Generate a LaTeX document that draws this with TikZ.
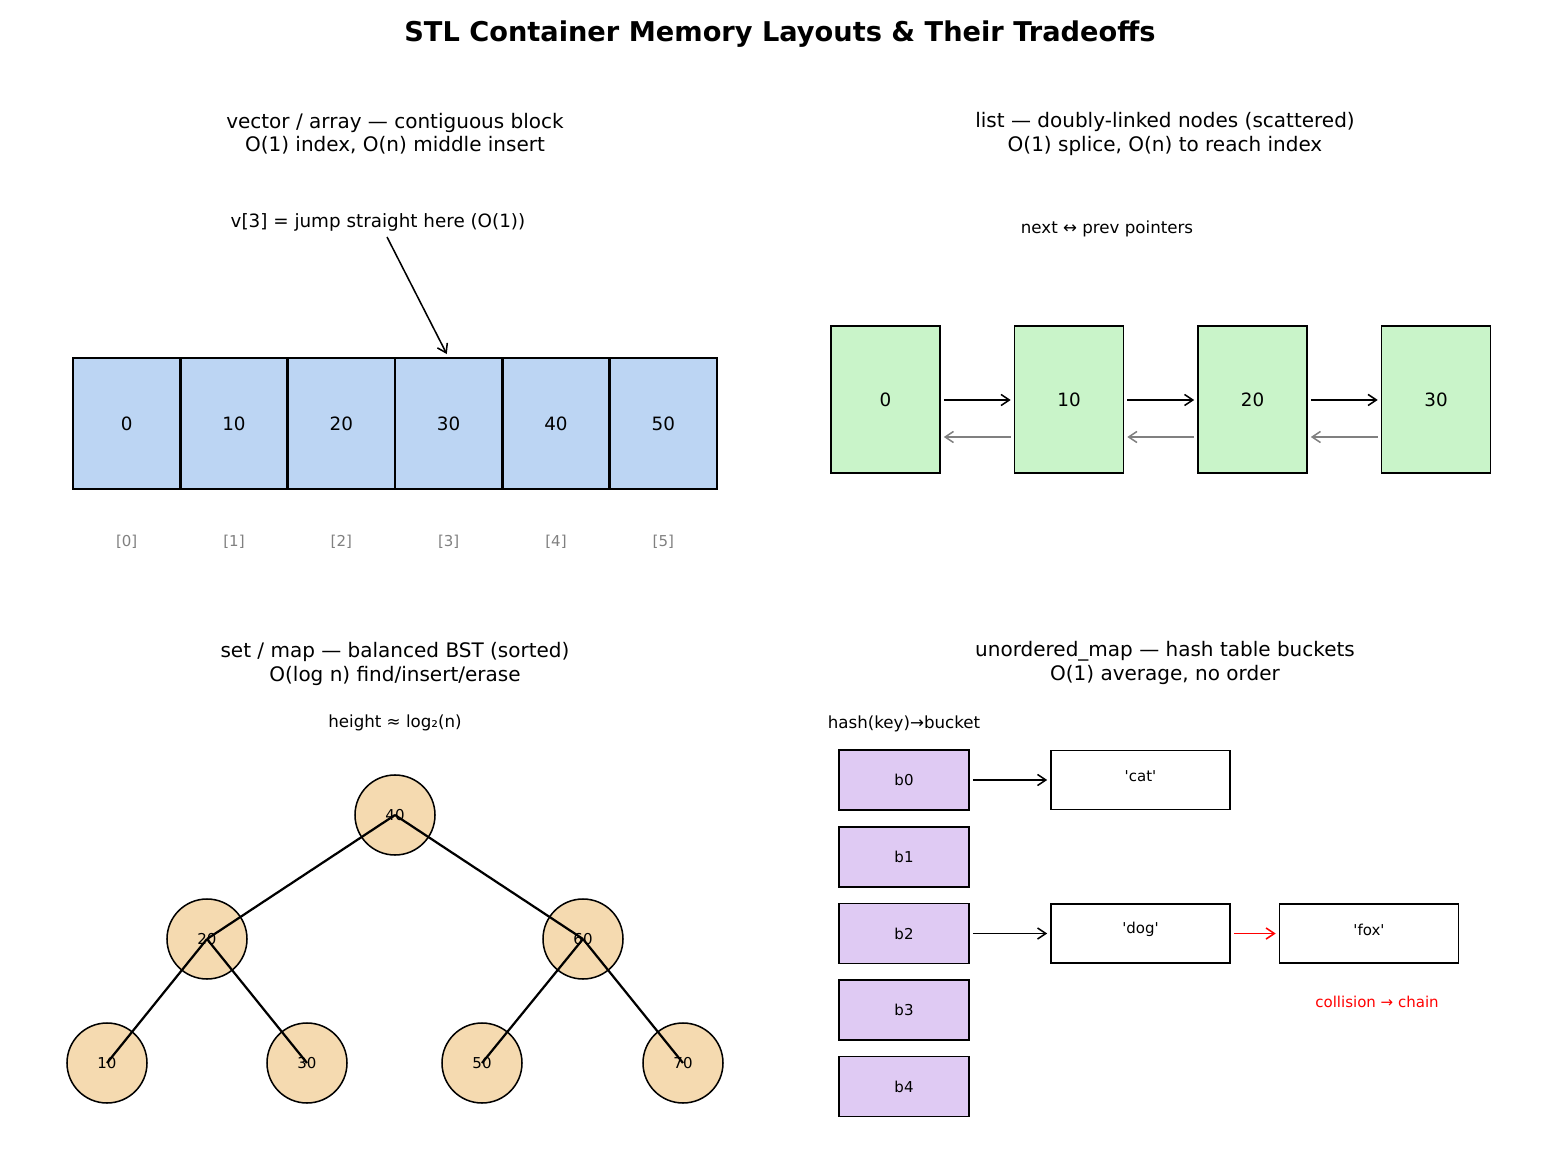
\documentclass[tikz,border=0pt]{standalone}
\usepackage{fontspec}
\setmainfont{DejaVu Sans}
\usetikzlibrary{arrows.meta}
\definecolor{vblue}{HTML}{BCD5F3}
\definecolor{lgreen}{HTML}{C9F4C9}
\definecolor{wheatc}{HTML}{F5DAB0}
\definecolor{lav}{HTML}{DFCAF3}
\definecolor{idxgray}{HTML}{808080}
\newcommand{\sq}{\textquotesingle}
\begin{document}
\begin{tikzpicture}[x=0.72pt,y=-0.72pt,
  cell/.style={fill=vblue, minimum width=77.28pt, minimum height=94.3pt, inner sep=0pt, font=\fontsize{13.2}{15}\selectfont},
  border/.style={draw=black, line width=1.4pt},
  lnode/.style={draw=black, line width=1.4pt, fill=lgreen, minimum width=78.5pt, minimum height=105.8pt, inner sep=0pt, font=\fontsize{13.2}{15}\selectfont},
  tnode/.style={circle, draw=black, line width=1.1pt, fill=wheatc, minimum size=57.6pt, inner sep=0pt, font=\fontsize{10.8}{12}\selectfont},
  bucket/.style={draw=black, line width=1.4pt, fill=lav, minimum width=93.6pt, minimum height=43.2pt, inner sep=0pt, font=\fontsize{10.8}{12}\selectfont},
  valbox/.style={draw=black, line width=1.4pt, fill=white, minimum width=128.9pt, minimum height=42.5pt, inner sep=0pt},
  valtxt/.style={font=\fontsize{10.8}{12}\selectfont, inner sep=0pt},
  idx/.style={text=idxgray, font=\fontsize{10.8}{12}\selectfont},
  sub/.style={align=center, font=\fontsize{14.4}{16.6}\selectfont},
  note/.style={font=\fontsize{12}{14}\selectfont},
  arr/.style={-{Straight Barb[length=6pt,width=8pt]}, line width=1.1pt},
  edge/.style={line width=1.6pt}]
\useasboundingbox (0,0) rectangle (1560,1170);

% title
\node[font=\fontsize{19.6}{23}\selectfont\bfseries] (title) at (780,34) {STL Container Memory Layouts \& Their Tradeoffs};

% ---------- vector ----------
\node[sub] (vsub) at (395,134) {vector / array — contiguous block\\O(1) index, O(n) middle insert};
\foreach \i/\v in {0/0,1/10,2/20,3/30,4/40,5/50}{
  \node[cell] (c\i) at ({126.67+\i*107.33},423.5) {\v};
  \node[idx] (i\i) at ({126.67+\i*107.33},542) {[\i]};
}
\foreach \i in {0,...,5}{
  \draw[border] (c\i.south west) rectangle (c\i.north east);
}
\node[font=\fontsize{13.2}{15}\selectfont] (vnote) at (378,222) {v[3] = jump straight here (O(1))};
\coordinate (vs) at (387,237);
\draw[arr, shorten >=3pt] (vs) -- (c3.north);

% ---------- list ----------
\node[sub] (lsub) at (1165,134) {list — doubly-linked nodes (scattered)\\O(1) splice, O(n) to reach index};
\node[note] (lnote) at (1107,229) {next ↔ prev pointers};
\foreach \i/\v/\x in {0/0/885.5,1/10/1069,2/20/1252.5,3/30/1436}{
  \node[lnode] (l\i) at (\x,399.5) {\v};
}
\foreach \a/\b in {0/1,1/2,2/3}{
  \draw[arr, shorten <=2pt, shorten >=2pt] ([yshift=-0.36pt]l\a.east) -- ([yshift=-0.36pt]l\b.west);
  \draw[arr, idxgray, shorten <=2pt, shorten >=2pt] ([yshift=-27pt]l\b.west) -- ([yshift=-27pt]l\a.east);
}

% ---------- tree ----------
\node[sub] (tsub) at (395,664) {set / map — balanced BST (sorted)\\O(log n) find/insert/erase};
\node[note] (tnote) at (395,723) {height ≈ log₂(n)};
\node[tnode] (t40) at (395,815) {40};
\node[tnode] (t20) at (207,939) {20};
\node[tnode] (t60) at (583,939) {60};
\node[tnode] (t10) at (107,1063) {10};
\node[tnode] (t30) at (307,1063) {30};
\node[tnode] (t50) at (482,1063) {50};
\node[tnode] (t70) at (683,1063) {70};
\draw[edge] (t40.center) -- (t20.center);
\draw[edge] (t40.center) -- (t60.center);
\draw[edge] (t20.center) -- (t10.center);
\draw[edge] (t20.center) -- (t30.center);
\draw[edge] (t60.center) -- (t50.center);
\draw[edge] (t60.center) -- (t70.center);

% ---------- hash ----------
\node[sub] (hsub) at (1165,663) {unordered\_map — hash table buckets\\O(1) average, no order};
\node[note] (hnote) at (904,724) {hash(key)→bucket};
\foreach \i/\y in {0/780,1/857,2/933.5,3/1010,4/1086.5}{
  \node[bucket] (b\i) at (904,\y) {b\i};
}
\node[valbox] (vcat) at (1140.5,780) {};
\node[valtxt] (tcat) at (1140.5,776) {\sq cat\sq};
\node[valbox] (vdog) at (1140.5,933.5) {};
\node[valtxt] (tdog) at (1140.5,929.5) {\sq dog\sq};
\node[valbox] (vfox) at (1369,933.5) {};
\node[valtxt] (tfox) at (1369,929.5) {\sq fox\sq};
\draw[arr, shorten <=2pt, shorten >=2pt] (b0.east) -- (vcat.west);
\draw[arr, shorten <=2pt, shorten >=2pt] (b2.east) -- (vdog.west);
\draw[arr, red, shorten <=2pt, shorten >=2pt] (vdog.east) -- (vfox.west);
\node[text=red, font=\fontsize{10.8}{12}\selectfont] (coll) at (1377,1002) {collision → chain};
\end{tikzpicture}
\end{document}
